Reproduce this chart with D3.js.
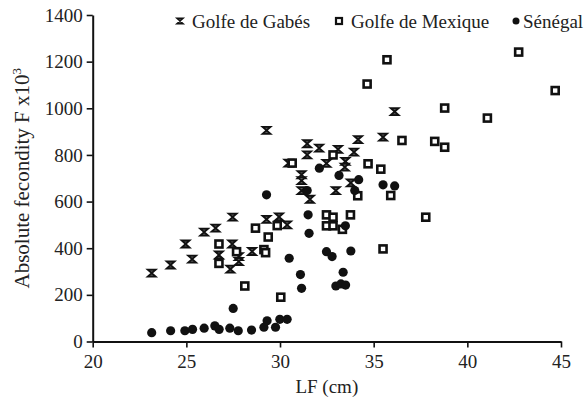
<!DOCTYPE html>
<html>
<head>
    <meta charset="UTF-8">
    <title>Absolute fecondity vs LF</title>
    <style>
      body { margin: 0; background: #fff; }
      text { font-family: "Liberation Serif", "Times New Roman", serif; fill: #222; }
    </style>
    <script src="https://cdn.jsdelivr.net/npm/d3@7/dist/d3.min.js"></script>
</head>
<body>
<svg id="chart" width="587" height="401"></svg>
<script>
// Golfe de Gabès (hourglass marks): [LF cm, fecundity x10^3]
var gabes = [
  [23.15, 293], [24.16, 328], [24.96, 418], [25.31, 353], [25.95, 469],
  [26.56, 486], [26.74, 371], [27.45, 418], [27.8, 364], [27.8, 343],
  [27.35, 310], [27.47, 533], [28.51, 386], [29.28, 905], [29.28, 524],
  [29.95, 534], [30.38, 500], [30.45, 765], [31.15, 715], [31.15, 690],
  [31.15, 647], [31.45, 848], [31.45, 800], [31.6, 610], [32.09, 829],
  [32.48, 764], [33.1, 824], [33.49, 772], [33.46, 748], [33.95, 812],
  [34.17, 866], [33.78, 680], [32.98, 647], [35.5, 876], [36.12, 986]
]
// Golfe de Mexique (open squares)
var mexique = [
  [26.74, 418], [26.74, 335], [27.68, 385], [28.12, 238], [28.69, 486],
  [29.14, 394], [29.23, 381], [29.37, 448], [29.85, 497], [30.04, 190],
  [30.65, 765], [32.83, 800], [34.7, 762], [32.48, 543], [32.83, 533],
  [33.76, 543], [32.48, 496], [32.83, 496], [33.33, 481], [34.15, 625],
  [34.65, 1104], [35.71, 1208], [35.38, 739], [35.91, 626], [35.5, 397],
  [36.51, 862], [37.78, 533], [38.26, 858], [38.79, 833], [38.79, 1001],
  [41.07, 958], [42.74, 1241], [44.69, 1076]
]
// Sénégal (filled circles)
var senegal = [
  [23.15, 38], [24.16, 46], [24.92, 46], [25.33, 52], [25.95, 57],
  [26.52, 67], [26.75, 52], [27.32, 57], [27.77, 46], [28.48, 49],
  [29.14, 61], [29.31, 89], [29.76, 61], [29.99, 95], [30.38, 95],
  [27.5, 142], [29.28, 629], [30.49, 357], [31.09, 287], [31.15, 228],
  [31.45, 647], [31.5, 543], [31.55, 464], [32.1, 743], [33.15, 712],
  [34.2, 694], [33.99, 647], [33.49, 496], [32.48, 385], [32.78, 364],
  [33.78, 388], [33.37, 297], [32.98, 238], [33.25, 247], [33.5, 242],
  [35.5, 672], [36.12, 667]
]
var xTicks = [20, 25, 30, 35, 40, 45]
var yTicks = [0, 200, 400, 600, 800, 1000, 1200, 1400]
var legendNames = ["Golfe de Gabés", "Golfe de Mexique", "Sénégal"]

var svg = d3.select("#chart")
var x = d3.scaleLinear().domain([20, 45]).range([92.7, 561])
var y = d3.scaleLinear().domain([0, 1400]).range([341.5, 15])

var hourglass = "M-4,-3.5L4,-3.5L-4,3.5L4,3.5Z"

function styleAxis(g) {
  g.attr("font-family", null)
  g.select(".domain").attr("stroke", "#111").attr("stroke-width", 2)
  g.selectAll(".tick line").attr("stroke", "#111").attr("stroke-width", 1.6)
  g.selectAll(".tick text").style("font-family", "'Liberation Serif', serif").style("font-size", "19px").attr("fill", "#222")
}

svg.append("g")
  .attr("transform", "translate(0," + y(0) + ")")
  .call(d3.axisBottom(x).tickValues(xTicks).tickFormat(d3.format("d")).tickSize(6).tickSizeOuter(0).tickPadding(7))
  .call(styleAxis)

svg.append("g")
  .attr("transform", "translate(" + x(20) + ",0)")
  .call(d3.axisLeft(y).tickValues(yTicks).tickFormat(d3.format("d")).tickSize(6).tickSizeOuter(0).tickPadding(4))
  .call(styleAxis)

// axis titles
svg.append("text")
  .attr("x", x(32.5)).attr("y", 393)
  .attr("text-anchor", "middle").style("font-size", "19px")
  .text("LF (cm)")

var yt = svg.append("text")
  .attr("transform", "translate(29," + y(700) + ") rotate(-90)")
  .attr("text-anchor", "middle").style("font-size", "21px")
yt.append("tspan").text("Absolute fecondity F x10")
yt.append("tspan").attr("dy", -8).style("font-size", "13px").text("3")

// marks
svg.append("g").selectAll("path").data(gabes).join("path")
  .attr("transform", function(d) { return "translate(" + x(d[0]) + "," + y(d[1]) + ")" })
  .attr("d", hourglass)
  .attr("fill", "#555").attr("stroke", "#111").attr("stroke-width", 1.8)

svg.append("g").selectAll("rect").data(mexique).join("rect")
  .attr("x", function(d) { return x(d[0]) - 3.5 })
  .attr("y", function(d) { return y(d[1]) - 3.5 })
  .attr("width", 7).attr("height", 7)
  .attr("fill", "#fff").attr("stroke", "#111").attr("stroke-width", 2.6)

svg.append("g").selectAll("circle").data(senegal).join("circle")
  .attr("cx", function(d) { return x(d[0]) })
  .attr("cy", function(d) { return y(d[1]) })
  .attr("r", 4.6).attr("fill", "#111")

// legend
var legendX = [180, 339, 516]
var lg = svg.append("g")
lg.append("path").attr("transform", "translate(" + legendX[0] + ",21) scale(0.8)")
  .attr("d", hourglass).attr("fill", "#555").attr("stroke", "#111").attr("stroke-width", 1.8)
lg.append("rect").attr("x", legendX[1] - 3).attr("y", 18).attr("width", 6).attr("height", 6)
  .attr("fill", "#fff").attr("stroke", "#111").attr("stroke-width", 2.2)
lg.append("circle").attr("cx", legendX[2]).attr("cy", 21).attr("r", 3.5).attr("fill", "#111")
lg.selectAll("text").data(legendNames).join("text")
  .attr("x", function(d, i) { return legendX[i] + (i == 2 ? 7 : 12) })
  .attr("y", 28)
  .style("font-size", "19px")
  .text(function(d) { return d })
</script>
</body>
</html>
